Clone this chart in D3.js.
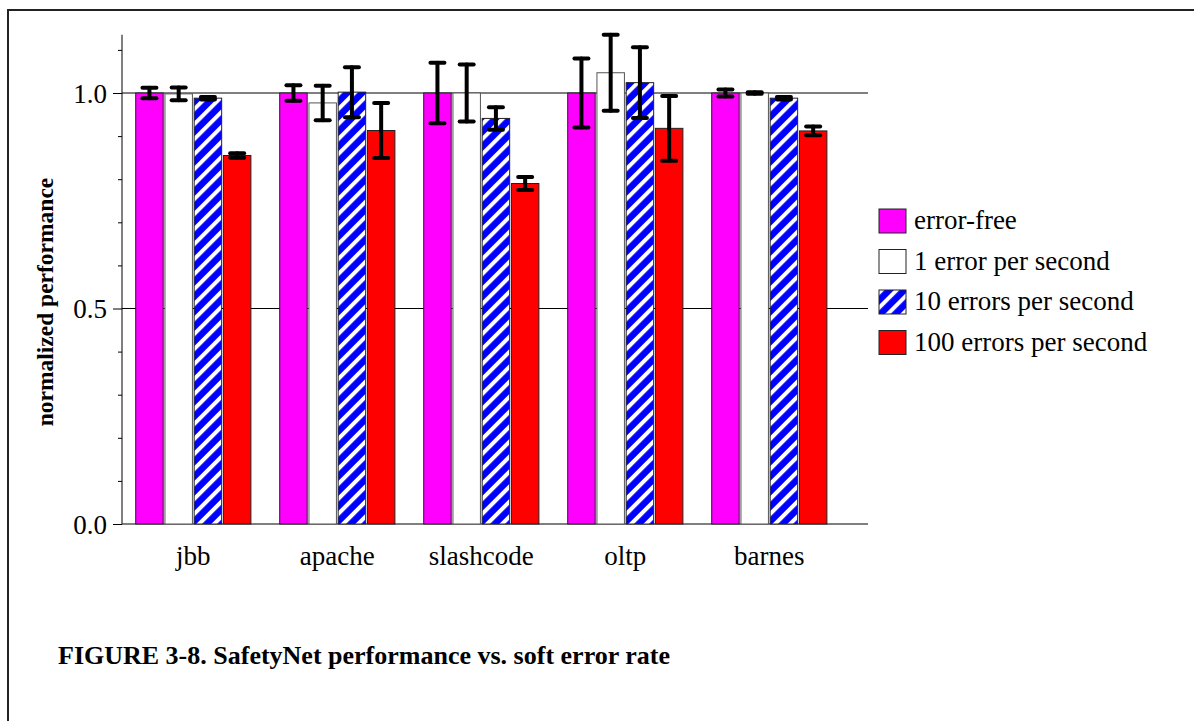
<!DOCTYPE html>
<html>
<head>
<meta charset="utf-8">
<script src="https://cdn.jsdelivr.net/npm/d3@7"></script>
<style>
  body { margin: 0; background: #fff; }
  svg text { font-family: "Liberation Serif", "Times New Roman", Times, serif; fill: #000; }
</style>
</head>
<body>
<script>
// ---------------------- DATA ----------------------

const benchmarks = ["jbb", "apache", "slashcode", "oltp", "barnes"];
const seriesNames = ["error-free", "1 error per second", "10 errors per second", "100 errors per second"];

const errorFree = [1.0, 1.0, 1.0, 1.0, 1.0];
const errorFreeErr = [0.012, 0.018, 0.07, 0.08, 0.008];
const oneError = [0.998, 0.977, 1.0, 1.047, 1.0];
const oneErrorErr = [0.015, 0.04, 0.066, 0.088, 0.002];
const tenErrors = [0.988, 1.002, 0.941, 1.024, 0.988];
const tenErrorsErr = [0.003, 0.058, 0.026, 0.082, 0.003];
const hundredErrors = [0.855, 0.913, 0.790, 0.918, 0.912];
const hundredErrorsErr = [0.005, 0.064, 0.015, 0.075, 0.010];

const majorTicks = [0, 0.5, 1.0];
const minorTicks = [0.1, 0.2, 0.3, 0.4, 0.6, 0.7, 0.8, 0.9, 1.1];

// ---------------------- SETUP ----------------------

const width = 1194, height = 721;
const serif = "'Liberation Serif', 'Times New Roman', Times, serif";
const series = [
  { name: seriesNames[0], values: errorFree, errs: errorFreeErr, fill: "#ff00ff", stroke: "#222" },
  { name: seriesNames[1], values: oneError, errs: oneErrorErr, fill: "#ffffff", stroke: "#555" },
  { name: seriesNames[2], values: tenErrors, errs: tenErrorsErr, fill: "url(#stripes)", stroke: "#222" },
  { name: seriesNames[3], values: hundredErrors, errs: hundredErrorsErr, fill: "#ff0000", stroke: "#222" }
];

const svg = d3.select("body").append("svg")
  .attr("width", width)
  .attr("height", height);

// diagonal stripe pattern for the 10 errors series
const pat = svg.append("defs").append("pattern")
  .attr("id", "stripes")
  .attr("patternUnits", "userSpaceOnUse")
  .attr("width", 10.6)
  .attr("height", 10.6)
  .attr("patternTransform", "rotate(45)");
pat.append("rect").attr("width", 10.6).attr("height", 10.6).attr("fill", "#0000ff");
pat.append("rect").attr("width", 4).attr("height", 10.6).attr("fill", "#ffffff");

// page frame
svg.append("path")
  .attr("d", "M8,721 V10 H1194")
  .attr("fill", "none")
  .attr("stroke", "#222")
  .attr("stroke-width", 2);

const plotLeft = 122, plotRight = 868;

const x = d3.scaleBand()
  .domain(benchmarks)
  .range([121.3, 841.3])
  .paddingInner(0.2)
  .paddingOuter(0.1);

const xInner = d3.scaleBand()
  .domain(d3.range(series.length))
  .range([0, x.bandwidth()])
  .paddingInner(0.06);

const y = d3.scaleLinear()
  .domain([0, 1.135])
  .range([524, 524 - 1.135 * 431]);

// ---------------------- AXES & GRID ----------------------

svg.selectAll(".grid")
  .data(majorTicks)
  .enter().append("line")
  .attr("class", "grid")
  .attr("x1", plotLeft).attr("x2", plotRight)
  .attr("y1", d => y(d)).attr("y2", d => y(d))
  .attr("stroke", "#000")
  .attr("stroke-width", 1);

const yAxis = svg.append("g")
  .attr("transform", `translate(${plotLeft},0)`)
  .call(d3.axisLeft(y).tickValues(majorTicks).tickFormat(d3.format(".1f")).tickSize(9).tickPadding(6));
yAxis.select(".domain").remove();
yAxis.selectAll("text")
  .style("font-family", serif)
  .style("font-size", "27px")
  .attr("dy", "0.35em");
yAxis.selectAll("line").attr("stroke", "#000");

svg.append("g")
  .attr("transform", `translate(${plotLeft},0)`)
  .call(d3.axisLeft(y).tickValues(minorTicks).tickFormat("").tickSize(4))
  .call(g => g.select(".domain").remove())
  .selectAll("line").attr("stroke", "#000");

svg.append("line")
  .attr("x1", plotLeft).attr("x2", plotLeft)
  .attr("y1", y(0)).attr("y2", y(1.135))
  .attr("stroke", "#000")
  .attr("stroke-width", 1);

svg.append("text")
  .attr("transform", `translate(53,${y(0.515)}) rotate(-90)`)
  .attr("text-anchor", "middle")
  .style("font-family", serif)
  .style("font-size", "23.5px")
  .style("font-weight", "bold")
  .text("normalized performance");

svg.selectAll(".xlabel")
  .data(benchmarks)
  .enter().append("text")
  .attr("class", "xlabel")
  .attr("x", d => x(d) + x.bandwidth() / 2)
  .attr("y", 565)
  .attr("text-anchor", "middle")
  .style("font-family", serif)
  .style("font-size", "27px")
  .text(d => d);

// ---------------------- BARS ----------------------

const groups = svg.selectAll(".group")
  .data(benchmarks)
  .enter().append("g")
  .attr("class", "group")
  .attr("transform", d => `translate(${x(d)},0)`);

series.forEach((s, si) => {
  groups.append("rect")
    .attr("x", xInner(si))
    .attr("y", (d, i) => y(s.values[i]))
    .attr("width", xInner.bandwidth())
    .attr("height", (d, i) => y(0) - y(s.values[i]))
    .attr("fill", s.fill)
    .attr("stroke", s.stroke)
    .attr("stroke-width", 1);
});

// error bars
series.forEach((s, si) => {
  const cx = xInner(si) + xInner.bandwidth() / 2;
  const eb = groups.append("g")
    .attr("stroke", "#000")
    .attr("stroke-width", 4)
    .attr("stroke-linecap", "round");
  eb.append("line")
    .attr("x1", cx).attr("x2", cx)
    .attr("y1", (d, i) => y(s.values[i] + s.errs[i]))
    .attr("y2", (d, i) => y(s.values[i] - s.errs[i]));
  eb.append("line")
    .attr("x1", cx - 7).attr("x2", cx + 7)
    .attr("y1", (d, i) => y(s.values[i] + s.errs[i]))
    .attr("y2", (d, i) => y(s.values[i] + s.errs[i]));
  eb.append("line")
    .attr("x1", cx - 7).attr("x2", cx + 7)
    .attr("y1", (d, i) => y(s.values[i] - s.errs[i]))
    .attr("y2", (d, i) => y(s.values[i] - s.errs[i]));
});

// ---------------------- LEGEND ----------------------

const legend = svg.selectAll(".legend")
  .data(series)
  .enter().append("g")
  .attr("class", "legend")
  .attr("transform", (d, i) => `translate(879,${209 + i * 40.5})`);

legend.append("rect")
  .attr("width", 27)
  .attr("height", 24)
  .attr("fill", d => d.fill)
  .attr("stroke", "#222")
  .attr("stroke-width", 1);

legend.append("text")
  .attr("x", 35)
  .attr("y", 20)
  .style("font-family", serif)
  .style("font-size", "27px")
  .text(d => d.name);

// ---------------------- CAPTION ----------------------

svg.append("text")
  .attr("x", 58)
  .attr("y", 664)
  .style("font-family", serif)
  .style("font-size", "26px")
  .style("font-weight", "bold")
  .text("FIGURE 3-8. SafetyNet performance vs. soft error rate");
</script>
</body>
</html>
